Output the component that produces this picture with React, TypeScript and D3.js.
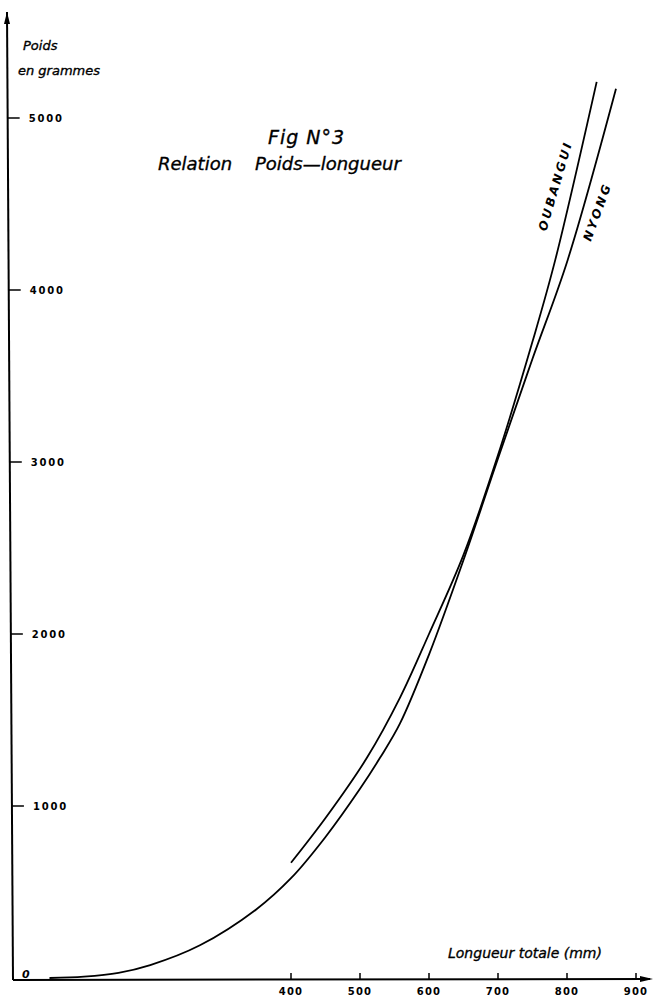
import React from "react";
import * as d3 from "d3";

// Weight–length relation, two populations
const oubanguiLength = [400, 450, 510, 558, 600, 650, 700, 750, 783, 843];
const oubanguiWeight = [670, 930, 1280, 1630, 2000, 2460, 3040, 3700, 4175, 5210];

const nyongLength = [50, 100, 150, 196, 268, 350, 400, 450, 500, 529, 558, 600, 650, 700, 750, 801, 871];
const nyongWeight = [0, 8, 30, 75, 190, 400, 580, 820, 1100, 1280, 1480, 1880, 2430, 3020, 3600, 4175, 5170];

const yTicks = [1000, 2000, 3000, 4000, 5000];
const xTicks = [400, 500, 600, 700, 800, 900];

const W = 654;
const H = 996;

const hand = "'DejaVu Sans', 'Liberation Sans', sans-serif";

export default function App() {
  const x = d3.scaleLinear().domain([0, 900]).range([15, 636]);
  const y = d3.scaleLinear().domain([0, 5000]).range([978, 118]);

  const line = d3
    .line<[number, number]>()
    .x((d) => x(d[0]))
    .y((d) => y(d[1]))
    .curve(d3.curveCatmullRom.alpha(0.5));

  const oub = oubanguiLength.map((l, i) => [l, oubanguiWeight[i]] as [number, number]);
  const nyo = nyongLength.map((l, i) => [l, nyongWeight[i]] as [number, number]);

  // the vertical axis leans slightly
  const axisTop = 12;
  const axisBottom = 980;
  const axisX = (py: number) => 7 + (6 * (py - axisTop)) / (axisBottom - axisTop);

  const lettering = { stroke: "#000", strokeWidth: 0.35 };

  return (
    <svg
      width={W}
      height={H}
      style={{ position: "absolute", left: 0, top: 0, background: "#fff" }}
    >
      <rect width={W} height={H} fill="#fff" />

      {/* vertical axis with arrow */}
      <line x1={axisX(axisTop)} y1={axisTop} x2={axisX(axisBottom)} y2={axisBottom} stroke="#000" strokeWidth={2} />
      <path d={`M${axisX(axisTop) - 3},${axisTop + 12} L${axisX(axisTop)},${axisTop} L${axisX(axisTop) + 3},${axisTop + 12} Z`} fill="#000" />

      {/* horizontal axis with arrow */}
      <line x1={axisX(axisBottom)} y1={axisBottom} x2={650} y2={979} stroke="#000" strokeWidth={2} />
      <path d="M640,976 L653,979 L640,982 Z" fill="#000" />

      {/* y ticks and labels */}
      {yTicks.map((t) => {
        const py = y(t);
        const ax = axisX(py);
        return (
          <g key={t}>
            <line x1={ax} y1={py} x2={ax + 12} y2={py} stroke="#000" strokeWidth={1.5} />
            <text
              x={ax + 21}
              y={py + 4}
              fontFamily={hand}
              fontWeight="bold"
              fontSize={10}
              letterSpacing={1.8}
              fill="#000"
            >
              {t}
            </text>
          </g>
        );
      })}
      <text x={22} y={978} fontFamily={hand} fontStyle="italic" fontWeight="bold" fontSize={11} fill="#000">
        0
      </text>

      {/* x ticks and labels */}
      {xTicks.map((t) => (
        <g key={t}>
          <line x1={x(t)} y1={979} x2={x(t)} y2={973} stroke="#000" strokeWidth={1.5} />
          <text
            x={x(t)}
            y={995}
            textAnchor="middle"
            fontFamily={hand}
            fontWeight="bold"
            fontSize={10}
            letterSpacing={1.2}
            fill="#000"
          >
            {t}
          </text>
        </g>
      ))}

      {/* axis titles */}
      <text x={23} y={50} fontFamily={hand} fontStyle="italic" fontSize={13} fill="#000" {...lettering}>
        Poids
      </text>
      <text x={18} y={75} fontFamily={hand} fontStyle="italic" fontSize={13} fill="#000" {...lettering}>
        en grammes
      </text>
      <text x={448} y={958} fontFamily={hand} fontStyle="italic" fontSize={14} fill="#000" {...lettering}>
        Longueur totale (mm)
      </text>

      {/* figure title */}
      <text x={268} y={144} fontFamily={hand} fontStyle="italic" fontSize={19} letterSpacing={1} fill="#000" {...lettering}>
        Fig N°3
      </text>
      <text x={158} y={170} fontFamily={hand} fontStyle="italic" fontSize={18} fill="#000" xmlSpace="preserve" {...lettering}>
        Relation    Poids—longueur
      </text>

      {/* curves */}
      <path d={line(nyo) ?? ""} fill="none" stroke="#000" strokeWidth={1.8} />
      <path d={line(oub) ?? ""} fill="none" stroke="#000" strokeWidth={1.8} />

      {/* curve labels */}
      <text
        transform="translate(556,186) rotate(-73.6)"
        textAnchor="middle"
        dominantBaseline="middle"
        fontFamily={hand}
        fontStyle="italic"
        fontWeight="bold"
        fontSize={12}
        letterSpacing={2.6}
        fill="#000"
      >
        OUBANGUI
      </text>
      <text
        transform="translate(598,212) rotate(-70)"
        textAnchor="middle"
        dominantBaseline="middle"
        fontFamily={hand}
        fontStyle="italic"
        fontWeight="bold"
        fontSize={12}
        letterSpacing={2.6}
        fill="#000"
      >
        NYONG
      </text>
    </svg>
  );
}
